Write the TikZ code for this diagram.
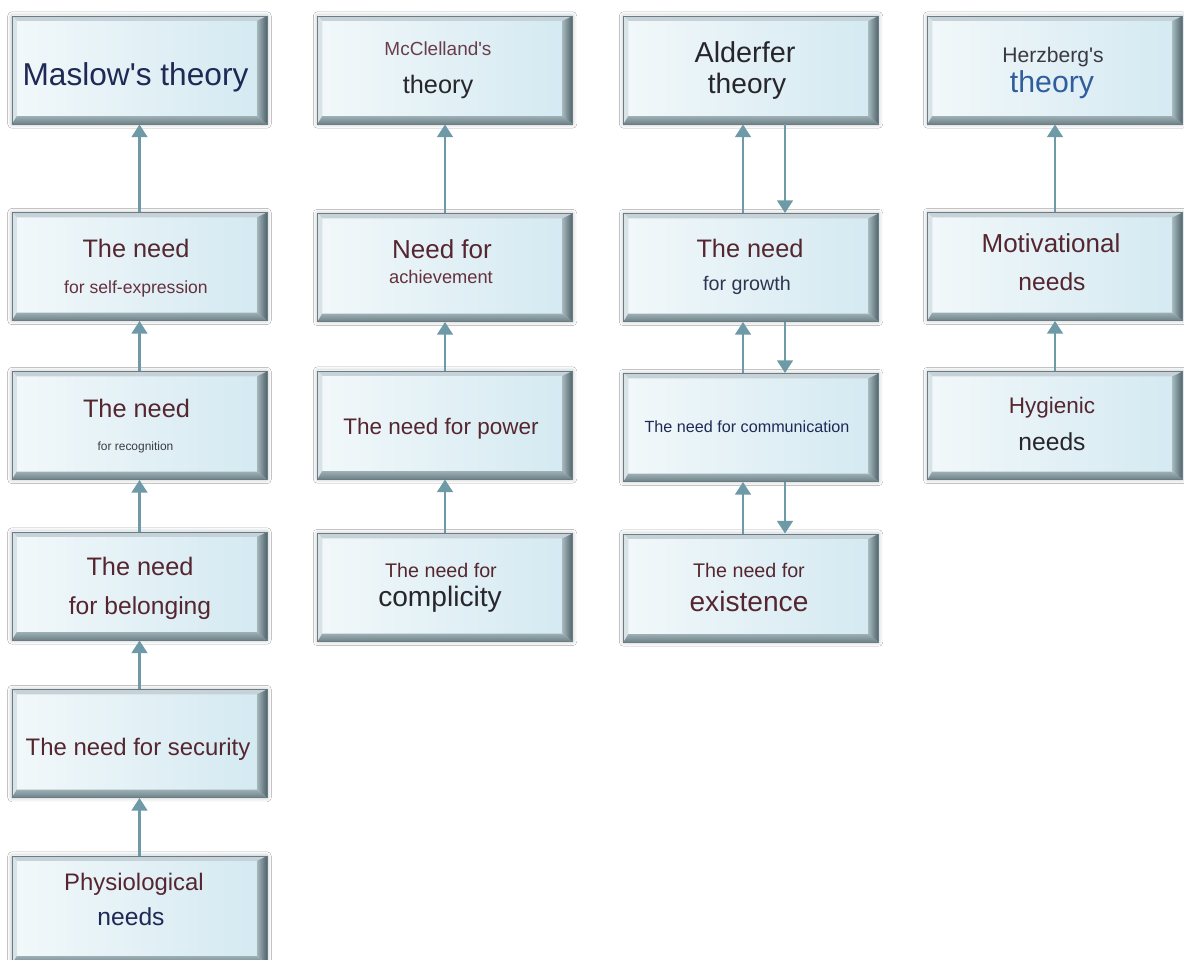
\documentclass[tikz,border=0pt]{standalone}
\usepackage{fontspec}
\setmainfont{Liberation Sans}
\usetikzlibrary{arrows.meta,shadows.blur}

% palette
\definecolor{arrowc}{HTML}{6E99A7}
\definecolor{edgec}{HTML}{6A7D84}
\definecolor{fillL}{HTML}{F2F8FA}
\definecolor{fillR}{HTML}{D3E9F1}
\definecolor{bevT}{HTML}{C6D2D7}
\definecolor{bevL}{HTML}{D8E3E7}
\definecolor{bevRin}{HTML}{A3B6BC}
\definecolor{bevRout}{HTML}{4F636A}
\definecolor{bevBin}{HTML}{9DB0B6}
\definecolor{bevBout}{HTML}{6E8187}
\definecolor{navy}{HTML}{1E2A55}
\definecolor{maroon}{HTML}{552630}
\definecolor{maroonlt}{HTML}{64313D}
\definecolor{mauve}{HTML}{6A3D4B}
\definecolor{inkdark}{HTML}{26262C}
\definecolor{inkgray}{HTML}{3A3A44}
\definecolor{navygray}{HTML}{2E3550}
\definecolor{theoryblue}{HTML}{2F5D9E}

\newcommand\tsz[1]{\fontsize{#1}{#1}\selectfont}
\newcommand\apos{\textquotesingle}

\tikzset{
  box/.style={
    minimum width=6.375cm, minimum height=2.7cm, inner sep=0pt,
    draw=edgec, line width=0.6pt,
    left color=fillL, right color=fillR,
    blur shadow={shadow xshift=0pt, shadow yshift=0pt,
                 shadow blur radius=3pt, shadow opacity=30},
    path picture={
      \path (path picture bounding box.north west) coordinate (pNW)
            (path picture bounding box.north east) coordinate (pNE)
            (path picture bounding box.south west) coordinate (pSW)
            (path picture bounding box.south east) coordinate (pSE);
      % bevelled rim: light top/left, dark right/bottom
      \fill[bevT] (pNW) -- (pNE) -- ([xshift=-0.25cm,yshift=-0.12cm]pNE)
        -- ([xshift=0.12cm,yshift=-0.12cm]pNW) -- cycle;
      \fill[bevL] (pNW) -- ([xshift=0.12cm,yshift=-0.12cm]pNW)
        -- ([xshift=0.12cm,yshift=0.2cm]pSW) -- (pSW) -- cycle;
      \shade[top color=bevBin, bottom color=bevBout]
        (pSW) -- ([xshift=0.12cm,yshift=0.2cm]pSW)
        -- ([xshift=-0.25cm,yshift=0.2cm]pSE) -- (pSE) -- cycle;
      \shade[left color=bevRin, right color=bevRout]
        (pNE) -- ([xshift=-0.25cm,yshift=-0.12cm]pNE)
        -- ([xshift=-0.25cm,yshift=0.2cm]pSE) -- (pSE) -- cycle;
    }},
  arr/.style={draw=arrowc, line width=2pt,
    -{Triangle[width=11pt,length=9pt]}},
  lbl/.style={anchor=base, inner sep=0pt},
}

\begin{document}
\begin{tikzpicture}[x=0.025cm, y=-0.025cm]
\clip (0,0) rectangle (1184,960);
\fill[white] (0,0) rectangle (1184,960);

% Maslow column
\node[box] (b11) at (139.5,70) {};
\node[box] (b12) at (139.5,266.5) {};
\node[box] (b13) at (139.5,425.5) {};
\node[box] (b14) at (139.5,586) {};
\node[box] (b15) at (139.5,743.5) {};
\node[box] (b16) at (139.5,910) {};

% McClelland column
\node[box] (b21) at (445,70) {};
\node[box] (b22) at (445,267.5) {};
\node[box] (b23) at (445,425) {};
\node[box] (b24) at (445,587.5) {};

% Alderfer column
\node[box] (b31) at (751,70) {};
\node[box] (b32) at (751,267.5) {};
\node[box] (b33) at (751,427.5) {};
\node[box] (b34) at (751,588) {};

% Herzberg column
\node[box] (b41) at (1055,70) {};
\node[box] (b42) at (1055,266.5) {};
\node[box] (b43) at (1055,425.5) {};

% connectors
\draw[arr] (b12.north) -- (b11.south);
\draw[arr] (b13.north) -- (b12.south);
\draw[arr] (b14.north) -- (b13.south);
\draw[arr] (b15.north) -- (b14.south);
\draw[arr] (b16.north) -- (b15.south);

\draw[arr] (b22.north) -- (b21.south);
\draw[arr] (b23.north) -- (b22.south);
\draw[arr] (b24.north) -- (b23.south);

\draw[arr] ([xshift=-0.2cm]b32.north) -- ([xshift=-0.2cm]b31.south);
\draw[arr] ([xshift=0.85cm]b31.south) -- ([xshift=0.85cm]b32.north);
\draw[arr] ([xshift=-0.2cm]b33.north) -- ([xshift=-0.2cm]b32.south);
\draw[arr] ([xshift=0.85cm]b32.south) -- ([xshift=0.85cm]b33.north);
\draw[arr] ([xshift=-0.2cm]b34.north) -- ([xshift=-0.2cm]b33.south);
\draw[arr] ([xshift=0.85cm]b33.south) -- ([xshift=0.85cm]b34.north);

\draw[arr] (b42.north) -- (b41.south);
\draw[arr] (b43.north) -- (b42.south);

% labels, Maslow
\node[lbl, text=navy] (t11) at (135.5,85) {\tsz{22.5}Maslow\apos s theory};
\node[lbl, text=maroon] (t12a) at (136,257) {\tsz{18}The need};
\node[lbl, text=maroonlt] (t12b) at (136,293) {\tsz{12.5}for self-expression};
\node[lbl, text=maroon] (t13a) at (136.5,417) {\tsz{18}The need};
\node[lbl, text=inkgray] (t13b) at (135.5,450) {\tsz{8.5}for recognition};
\node[lbl, text=maroon] (t14a) at (140,575) {\tsz{18}The need};
\node[lbl, text=maroon] (t14b) at (140,614) {\tsz{17.5}for belonging};
\node[lbl, text=maroon] (t15) at (138,755) {\tsz{17}The need for security};
\node[lbl, text=maroon] (t16a) at (134,890) {\tsz{17}Physiological};
\node[lbl, text=navy] (t16b) at (131,925) {\tsz{17.5}needs};

% labels, McClelland
\node[lbl, text=mauve] (t21a) at (438,55) {\tsz{13.5}McClelland\apos s};
\node[lbl, text=inkdark] (t21b) at (438,93) {\tsz{18}theory};
\node[lbl, text=maroon] (t22a) at (442,258) {\tsz{18.5}Need for};
\node[lbl, text=maroonlt] (t22b) at (441,283) {\tsz{13}achievement};
\node[lbl, text=maroon] (t23) at (441,434) {\tsz{16}The need for power};
\node[lbl, text=maroon] (t24a) at (441,577) {\tsz{14}The need for};
\node[lbl, text=inkdark] (t24b) at (440,606) {\tsz{20}complicity};

% labels, Alderfer
\node[lbl, text=inkdark] (t31a) at (745,62) {\tsz{20.5}Alderfer};
\node[lbl, text=inkdark] (t31b) at (747,93) {\tsz{20}theory};
\node[lbl, text=maroon] (t32a) at (750,257) {\tsz{18}The need};
\node[lbl, text=navygray] (t32b) at (747,290) {\tsz{14}for growth};
\node[lbl, text=navy] (t33) at (747,432) {\tsz{11.5}The need for communication};
\node[lbl, text=maroon] (t34a) at (749,577) {\tsz{14}The need for};
\node[lbl, text=maroon] (t34b) at (749,611) {\tsz{20}existence};

% labels, Herzberg
\node[lbl, text=inkgray] (t41a) at (1053,62) {\tsz{15}Herzberg\apos s};
\node[lbl, text=theoryblue] (t41b) at (1052,92) {\tsz{21.5}theory};
\node[lbl, text=maroon] (t42a) at (1051,252) {\tsz{18.5}Motivational};
\node[lbl, text=maroon] (t42b) at (1052,290) {\tsz{17.5}needs};
\node[lbl, text=maroon] (t43a) at (1052,413) {\tsz{16}Hygienic};
\node[lbl, text=inkdark] (t43b) at (1052,450) {\tsz{17.5}needs};
\end{tikzpicture}
\end{document}
